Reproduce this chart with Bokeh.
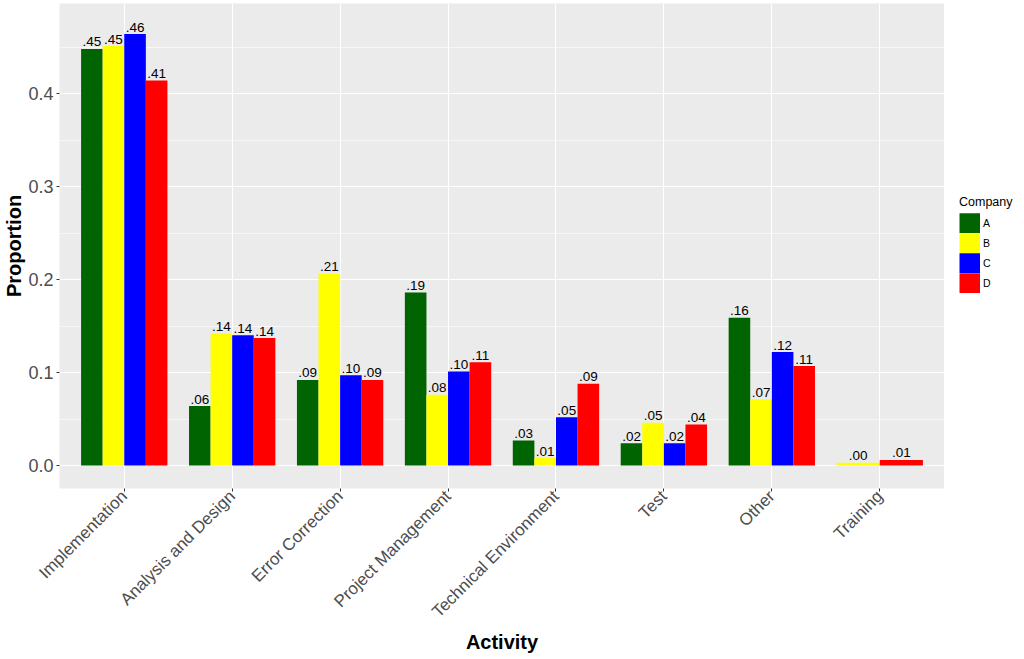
import math
from bokeh.plotting import figure
from bokeh.layouts import row
from bokeh.models import ColumnDataSource, FixedTicker, Legend, LegendItem, Range1d
from bokeh.core.properties import value
from bokeh.embed import file_html
from bokeh.resources import INLINE

activities = ["Implementation", "Analysis and Design", "Error Correction",
              "Project Management", "Technical Environment", "Test", "Other", "Training"]
companies = ["A", "B", "C", "D"]
colors = ["#006400", "#FFFF00", "#0000FF", "#FF0000"]
comp_A = [0.448, 0.064, 0.092, 0.186, 0.027, 0.024, 0.159, None]
comp_B = [0.451, 0.142, 0.206, 0.076, 0.008, 0.046, 0.071, 0.003]
comp_C = [0.464, 0.140, 0.097, 0.101, 0.052, 0.024, 0.122, None]
comp_D = [0.414, 0.137, 0.092, 0.111, 0.088, 0.044, 0.107, 0.006]
series = {"A": comp_A, "B": comp_B, "C": comp_C, "D": comp_D}

FONT = "Liberation Sans"

p = figure(frame_width=885, frame_height=485, output_backend="svg", toolbar_location=None,
           x_range=Range1d(-0.6, len(activities) - 0.4), y_range=Range1d(-0.0247, 0.4968),
           min_border_left=58, min_border_top=3, min_border_right=0, min_border_bottom=0)

p.background_fill_color = "#EBEBEB"
p.outline_line_color = None
p.border_fill_color = "white"

group_width = 0.8
for ci, comp in enumerate(companies):
    xs, ws, ys, labels = [], [], [], []
    for j, act in enumerate(activities):
        val = series[comp][j]
        if val is None:
            continue
        present = [c for c in companies if series[c][j] is not None]
        n = len(present)
        w = group_width / n
        k = present.index(comp)
        xs.append(j - group_width / 2 + w * (k + 0.5))
        ws.append(w)
        ys.append(val)
        labels.append(("%.2f" % val).lstrip("0"))
    src = ColumnDataSource(dict(x=xs, w=ws, top=ys, label=labels))
    p.vbar(x="x", width="w", top="top", bottom=0, source=src,
           fill_color=colors[ci], line_color=None)
    p.text(x="x", y="top", text="label", source=src, text_align="center",
           text_baseline="alphabetic", y_offset=-7, text_font_size="13.5px",
           text_color="black", text_font=value(FONT))

# axes
p.xaxis.ticker = FixedTicker(ticks=list(range(len(activities))))
p.xaxis.major_label_overrides = {i: a for i, a in enumerate(activities)}
p.xaxis.major_label_orientation = math.pi / 4
p.yaxis.ticker = FixedTicker(ticks=[0.0, 0.1, 0.2, 0.3, 0.4],
                             minor_ticks=[0.05, 0.15, 0.25, 0.35, 0.45])
p.yaxis.major_label_overrides = {0.0: "0.0", 0.1: "0.1", 0.2: "0.2", 0.3: "0.3", 0.4: "0.4"}

for ax in (p.xaxis, p.yaxis):
    ax.axis_line_color = None
    ax.major_tick_line_color = "#333333"
    ax.major_tick_out = 3
    ax.major_tick_in = 0
    ax.minor_tick_line_color = None
    ax.major_label_text_font = FONT
    ax.major_label_text_color = "#4D4D4D"
    ax.axis_label_text_font = FONT
    ax.axis_label_text_font_size = "20px"
    ax.axis_label_text_font_style = "bold"
    ax.axis_label_text_color = "black"
    ax.major_label_standoff = 2

p.xaxis.major_label_text_font_size = "17px"
p.yaxis.major_label_text_font_size = "18px"
p.xaxis.axis_label = "Activity"
p.yaxis.axis_label = "Proportion"
p.xaxis.axis_label_standoff = 0
p.yaxis.axis_label_standoff = 0

p.xgrid.grid_line_color = "white"
p.xgrid.grid_line_width = 1.1
p.ygrid.grid_line_color = "white"
p.ygrid.grid_line_width = 1.1
p.ygrid.minor_grid_line_color = "white"
p.ygrid.minor_grid_line_width = 0.6
p.xgrid.minor_grid_line_color = None

# legend panel (separate narrow figure on the right, frame aligned with the plot area)
pl = figure(width=73, height=651, output_backend="svg", toolbar_location=None,
            x_axis_type=None, y_axis_type=None, x_range=Range1d(0, 1), y_range=Range1d(0, 1),
            min_border=0)
pl.outline_line_color = None
pl.grid.visible = False
items = []
for ci, comp in enumerate(companies):
    # legend key renderer: a thick line drawn outside the visible range (key only)
    r = pl.line(x=[-5, -4], y=[-5, -5], line_color=colors[ci], line_width=20.5,
                line_cap="butt")
    items.append(LegendItem(label=comp, renderers=[r]))

legend = Legend(items=items, title="Company", location="left")
legend.title_text_font = FONT
legend.title_text_font_size = "12.5px"
legend.title_text_font_style = "normal"
legend.title_text_color = "black"
legend.title_standoff = 4
legend.label_text_font = FONT
legend.label_text_font_size = "10.5px"
legend.label_text_color = "black"
legend.glyph_width = 21
legend.glyph_height = 20
legend.label_height = 20
legend.label_standoff = 3
legend.spacing = 0
legend.padding = 0
legend.margin = 15
legend.border_line_color = None
legend.background_fill_alpha = 0
pl.add_layout(legend)

layout = row(p, pl)
open("out.html", "w").write(file_html(layout, INLINE))
